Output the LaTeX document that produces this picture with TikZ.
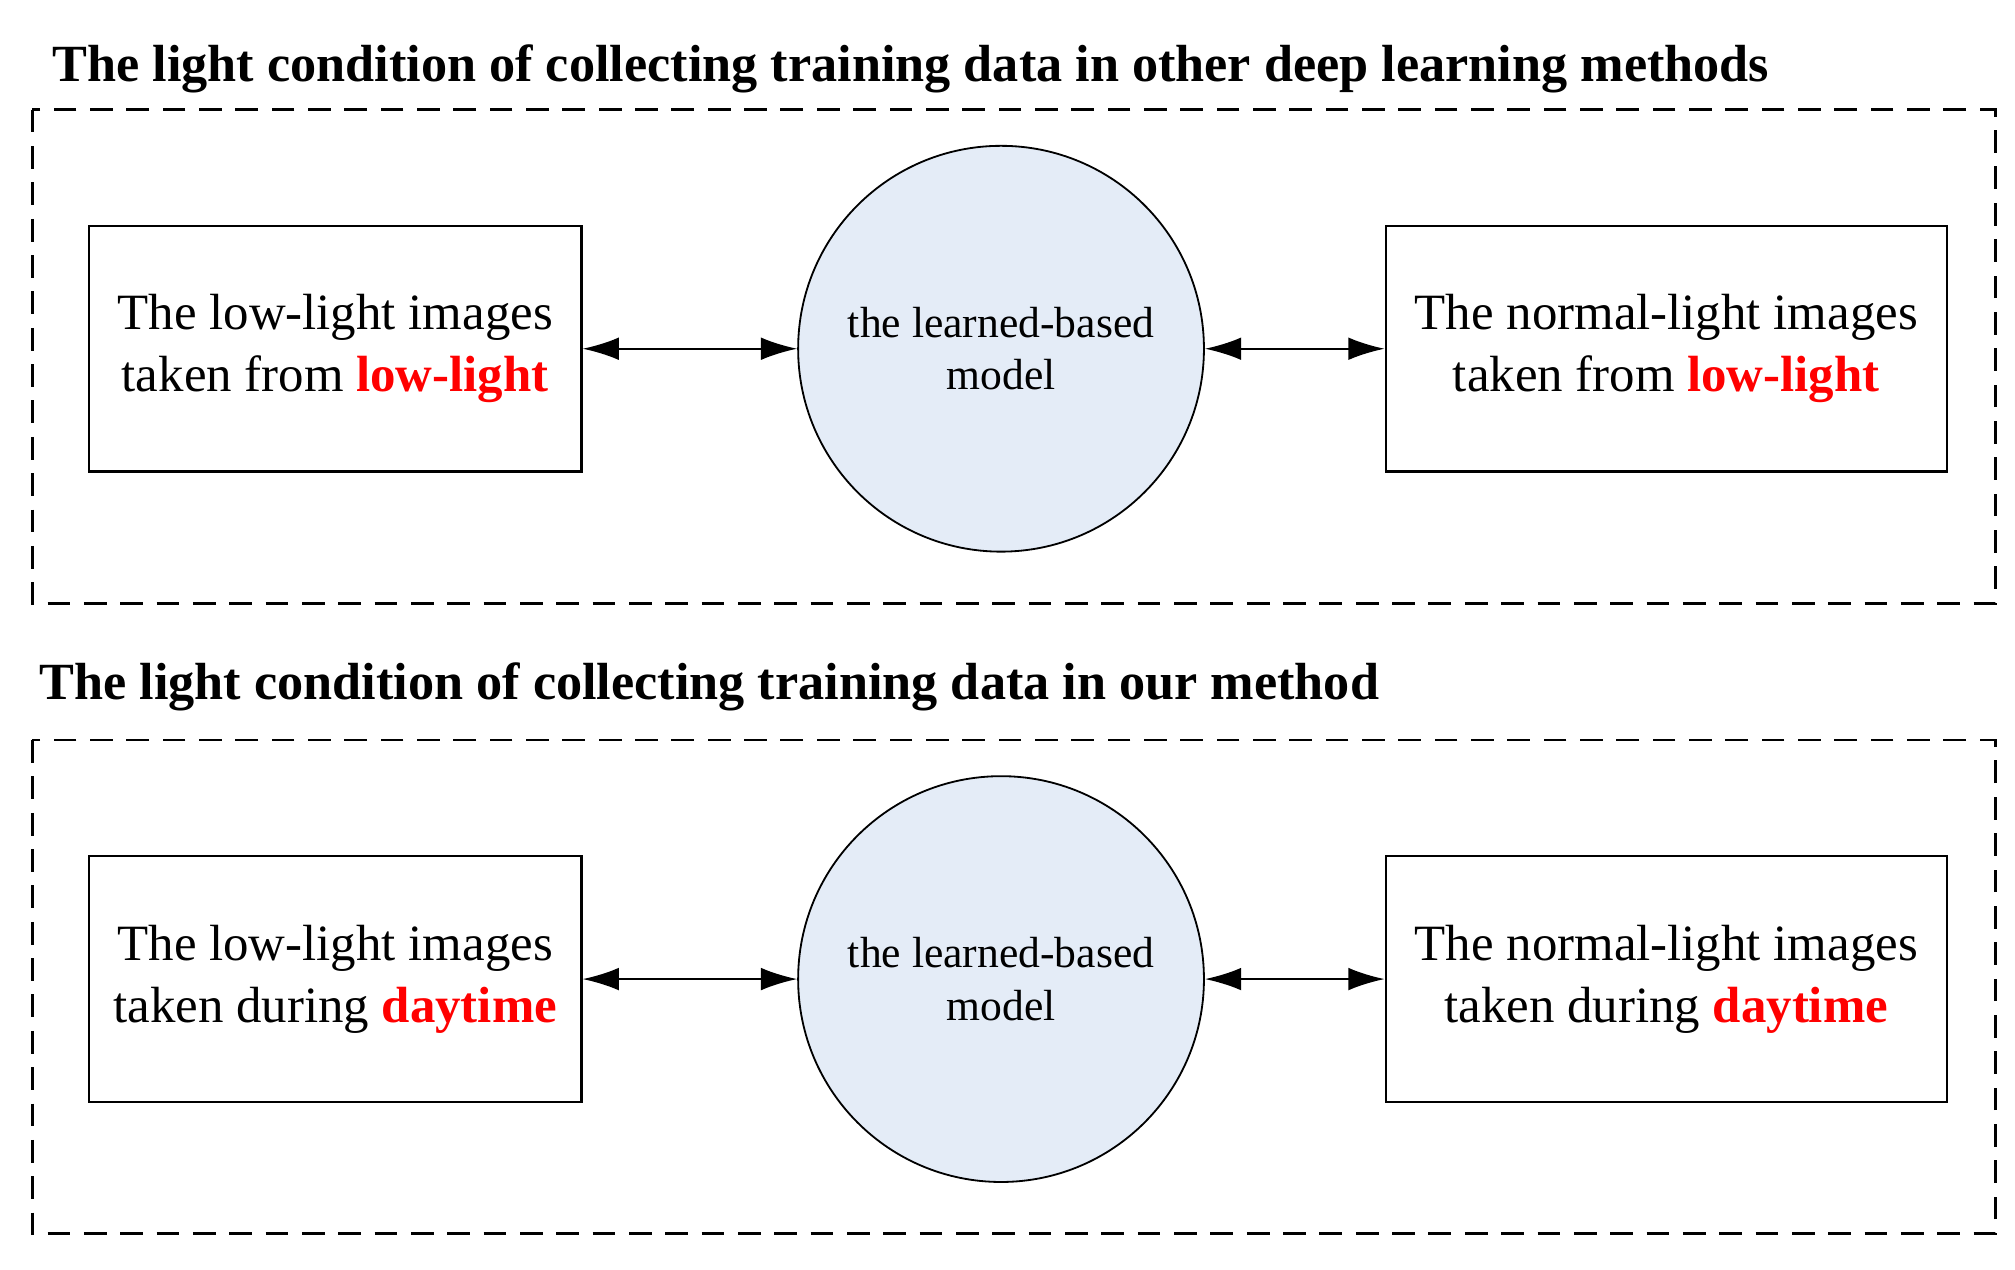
\documentclass[tikz,border=0pt]{standalone}
\usepackage{fontspec}
\setmainfont{Liberation Serif}
\usetikzlibrary{arrows.meta}

\definecolor{modelfill}{RGB}{228,236,247}

\tikzset{
  panel/.style = {draw, dash pattern=on 5pt off 3pt, line width=0.6pt},
  imgbox/.style = {draw, line width=0.5pt, inner sep=0pt, minimum height=1.9cm, align=center, font=\fontsize{11.2}{13.6}\selectfont},
  model/.style = {draw, circle, fill=modelfill, inner sep=0pt, minimum size=3.14cm, align=center, font=\fontsize{9.6}{11.5}\selectfont},
  link/.style = {{Latex[length=8pt,width=5pt]}-{Latex[length=8pt,width=5pt]}, line width=0.5pt}
}

\begin{document}
\begin{tikzpicture}[x = 0.01cm, y = -0.01cm]
  \useasboundingbox (0,0) rectangle (1560,983);

  \node[anchor=west, inner sep=0pt, font=\bfseries\fontsize{11.5}{14}\selectfont] (title1) at (40,53)
    {The light condition of collecting training data in other deep learning methods};
  \node[anchor=west, inner sep=0pt, font=\bfseries\fontsize{11.5}{14}\selectfont] (title2) at (30,532)
    {The light condition of collecting training data in our method};

  % two panels, same layout
  \foreach \n/\y/\w in {a/0/taken from \textcolor{red}{\textbf{low-light}},
                        b/488/taken during \textcolor{red}{\textbf{daytime}}}{
    \draw[panel] (25,85+\y) rectangle (1545,467+\y);
    \node[imgbox, minimum width=3.81cm] (low\n) at (259.5,270+\y) {The low-light images\\\w};
    \node[model] (model\n) at (775,270+\y) {the learned-based\\model};
    \node[imgbox, minimum width=4.34cm] (normal\n) at (1290,270+\y) {The normal-light images\\\w};
    \draw[link] (low\n) -- (model\n);
    \draw[link] (model\n) -- (normal\n);
  }
\end{tikzpicture}
\end{document}
